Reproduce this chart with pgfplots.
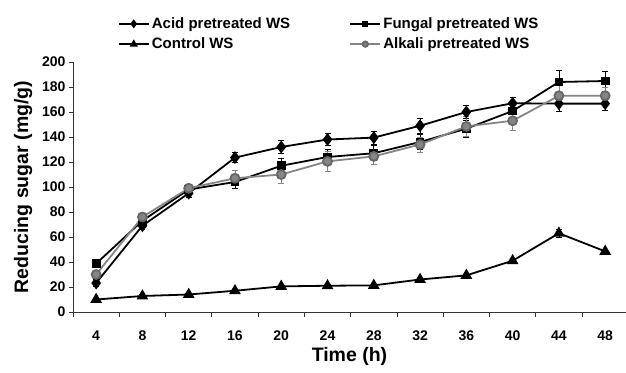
\documentclass[border=0pt]{standalone}
\usepackage{pgfplots}
\pgfplotsset{compat=1.18}
\usepackage{fontspec}
\setmainfont{Liberation Sans}
\definecolor{alk}{gray}{0.52}
\begin{document}
\begin{tikzpicture}[x=1bp,y=1bp]
\path[use as bounding box] (-73bp,-61bp) rectangle (553bp,312bp);
\begin{axis}[
  at={(0,0)}, anchor=south west,
  scale only axis, width=553bp, height=250bp,
  xmin=-0.5, xmax=11.45, ymin=0, ymax=200,
  axis x line*=bottom, axis y line*=left,
  axis line style={line width=0.8bp, black!80, -},
  xtick={0,...,11},
  xticklabels={4,8,12,16,20,24,28,32,36,40,44,48},
  minor xtick={-0.5,0.5,...,10.5},
  major x tick style={draw=none},
  minor tick length=5bp,
  ytick={0,20,...,200},
  major tick length=4bp,
  tick align=outside, tick style={black!80, line width=0.8bp},
  /pgf/number format/assume math mode=true,
  tick label style={font=\fontsize{14bp}{16bp}\selectfont\bfseries},
  xticklabel style={yshift=-11bp},
  xlabel={Time (h)}, ylabel={Reducing sugar (mg/g)},
  label style={font=\fontsize{19.5bp}{22bp}\selectfont\bfseries},
  xlabel style={yshift=0bp},
  ylabel style={yshift=3bp},
  legend columns=2,
  legend style={draw=none, fill=none, at={(0.075,1.03)}, anchor=south west,
    font=\fontsize{15bp}{17bp}\selectfont\bfseries,
    row sep=4bp,
    /tikz/every even column/.append style={column sep=57bp},
    /tikz/every odd column/.append style={column sep=0bp}},
  legend cell align=left,
  legend image code/.code={\draw[#1,line width=2.2bp] (0bp,0bp) -- (30bp,0bp); \draw[#1,every mark/.append style={scale=0.6}] plot coordinates {(15bp,0bp)};},
  error bars/y dir=both, error bars/y explicit,
  error bars/error bar style={line width=0.7bp},
  error bars/error mark options={rotate=90, mark size=3bp, line width=0.7bp},
]
\addplot[black, line width=1.8bp, mark=diamond*, mark size=5bp, mark options={solid}]
coordinates {
(0,23.2) +- (0,3) (1,69) +- (0,3) (2,95) +- (0,3) (3,123.5) +- (0,4)
(4,132) +- (0,5) (5,138) +- (0,5) (6,139.5) +- (0,5) (7,149) +- (0,6)
(8,160) +- (0,5) (9,167) +- (0,5) (10,166.7) +- (0,6) (11,166.7) +- (0,5)};
\addlegendentry{Acid pretreated WS}
\addplot[black, line width=1.8bp, mark=square*, mark size=3.5bp, mark options={solid}]
coordinates {
(0,38.7) +- (0,2) (1,73) +- (0,3) (2,98) +- (0,3) (3,104) +- (0,5)
(4,117) +- (0,6) (5,124) +- (0,6) (6,127) +- (0,6) (7,136) +- (0,6)
(8,146.7) +- (0,7) (9,160.8) +- (0,6) (10,184) +- (0,9) (11,184.8) +- (0,8)};
\addlegendentry{Fungal pretreated WS}
\addplot[black, line width=1.8bp, mark=triangle*, mark size=5bp, mark options={solid}]
coordinates {
(0,10) +- (0,1) (1,12.8) +- (0,1) (2,14) +- (0,1) (3,17) +- (0,1)
(4,20.5) +- (0,1) (5,21) +- (0,1) (6,21.3) +- (0,1) (7,26) +- (0,1)
(8,29.3) +- (0,1) (9,41) +- (0,2) (10,63) +- (0,3) (11,48.5) +- (0,2)};
\addlegendentry{Control WS}
\addplot[alk, line width=1.8bp, mark=*, mark size=4.5bp, mark options={solid, fill=alk, draw=black!60}]
coordinates {
(0,30) +- (0,3) (1,76) +- (0,3) (2,99) +- (0,3) (3,107) +- (0,6)
(4,110) +- (0,7) (5,120.5) +- (0,8) (6,124.5) +- (0,6) (7,134) +- (0,6)
(8,148.5) +- (0,8) (9,153) +- (0,8) (10,173) +- (0,8) (11,173) +- (0,7)};
\addlegendentry{Alkali pretreated WS}
\end{axis}
\end{tikzpicture}
\end{document}
